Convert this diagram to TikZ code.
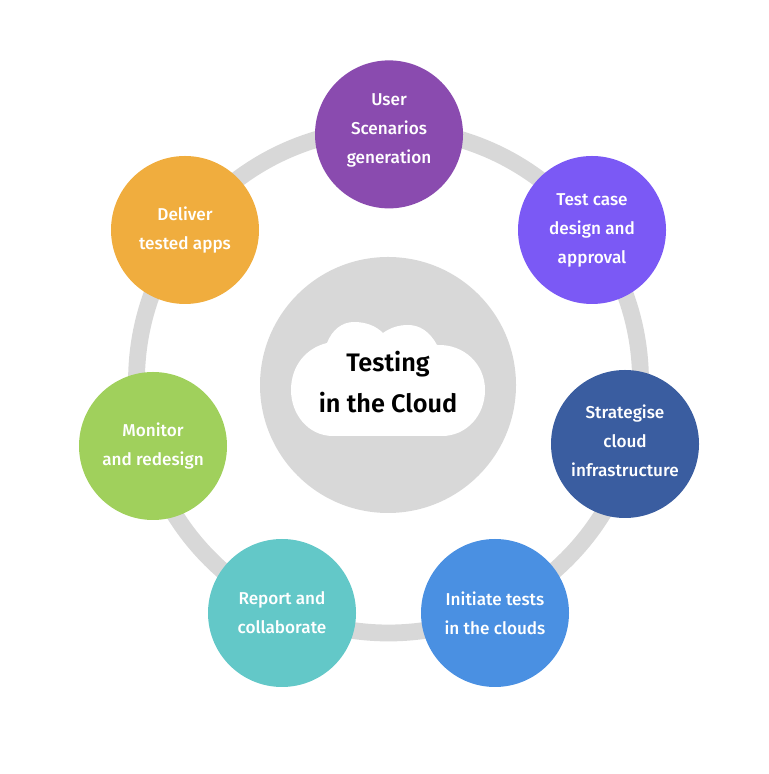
\documentclass[tikz,border=0pt]{standalone}
\usepackage{fontspec}
\setmainfont{Fira Sans Medium}[BoldFont={Fira Sans SemiBold}]
\tikzset{
	stepcircle/.style={circle,minimum size=3.7cm,inner sep=0pt,align=center,text=white,font=\fontsize{12.2}{20.6}\selectfont},
	corecircle/.style={circle,fill=ringgray,minimum size=6.4cm,inner sep=0pt},
	ringcircle/.style={circle,draw=ringgray,line width=0.42cm,minimum size=12.6cm,inner sep=0pt},
	coretext/.style={align=center,text=black,font=\fontsize{18}{29}\selectfont\bfseries}
}
\definecolor{ringgray}{HTML}{D8D8D8}
\definecolor{userpurple}{HTML}{8A4BAF}
\definecolor{casepurple}{HTML}{7B59F5}
\definecolor{infrablue}{HTML}{3A5DA0}
\definecolor{testsblue}{HTML}{4A90E2}
\definecolor{reportteal}{HTML}{63C8C8}
\definecolor{monitorgreen}{HTML}{A0D05C}
\definecolor{deliverorange}{HTML}{F0AD3E}
\begin{document}
\begin{tikzpicture}
		\useasboundingbox (0,0) rectangle (19.2,19.35);
		\node[ringcircle] (ring) at (9.7125,9.825) {};
		\node[corecircle] (core) at (9.7,9.725) {};

		% cloud
		\fill[white] (8.325,8.45) .. controls (7.7,8.45) and (7.275,9) .. (7.275,9.6)
			.. controls (7.275,10.2) and (7.65,10.65) .. (8.175,10.775)
			.. controls (8.3,11.1) and (8.55,11.3) .. (8.85,11.3)
			.. controls (9.15,11.3) and (9.4,11.2) .. (9.575,11.025)
			.. controls (9.75,11.15) and (9.95,11.225) .. (10.2,11.225)
			.. controls (10.5,11.225) and (10.75,11.05) .. (10.925,10.725)
			.. controls (11.6,10.75) and (12.125,10.25) .. (12.125,9.6)
			.. controls (12.125,8.95) and (11.65,8.45) .. (11.05,8.45) -- cycle;
		\node[coretext] (title) at (9.7,9.8) {Testing\\in the Cloud};

		\node[stepcircle,fill=userpurple] (user) at (9.725,15.99) {User\\Scenarios\\generation\\[-12pt]};
		\node[stepcircle,fill=casepurple] (case) at (14.8,13.6) {Test case\\design and\\approval};
		\node[stepcircle,fill=infrablue] (infra) at (15.625,8.25) {Strategise\\cloud\\infrastructure\\[-16.5pt]};
		\node[stepcircle,fill=testsblue] (tests) at (12.375,4.025) {Initiate tests\\in the clouds};
		\node[stepcircle,fill=reportteal] (report) at (7.05,4.025) {Report and\\collaborate};
		\node[stepcircle,fill=monitorgreen] (monitor) at (3.825,8.2) {Monitor\\and redesign};
		\node[stepcircle,fill=deliverorange] (deliver) at (4.625,13.6) {Deliver\\tested apps};
	\end{tikzpicture}
\end{document}
